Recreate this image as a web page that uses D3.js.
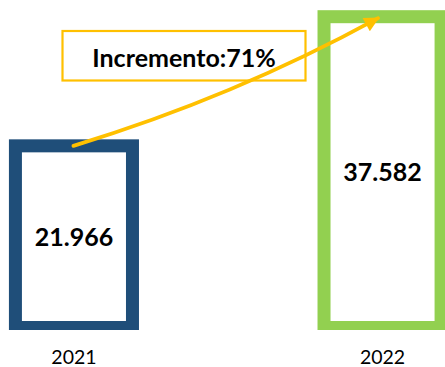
<!DOCTYPE html>
<html>
<head>
<meta charset="utf-8">
<script src="https://cdn.jsdelivr.net/npm/d3@7"></script>
<style>
  html, body { margin: 0; padding: 0; background: #fff; }
  svg { display: block; }
</style>
</head>
<body>
<svg id="chart" width="445" height="367"></svg>
<script>
// Yearly totals (thousands, shown with "." as thousands separator)
const years = ["2021", "2022"];
const totals = [21.966, 37.582];
const totalLabels = ["21.966", "37.582"];
const barColors = ["#1F4E79", "#92D050"];
const growthLabel = "Incremento:71%";

const W = 445, H = 367;
const svg = d3.select("#chart");
const font = "Lato, 'Open Sans', sans-serif";

const x = d3.scaleBand()
  .domain(years)
  .range([0, 456.5])
  .paddingInner(0.6207)
  .paddingOuter(0.05);

const y = d3.scaleLinear()
  .domain([0, 40])
  .range([327.5, -3.3]);

const plotBottom = 330;

svg.append("defs").append("clipPath").attr("id", "plot-clip")
  .append("rect").attr("x", 0).attr("y", 0).attr("width", W).attr("height", plotBottom);

const stroke = 13;
const data = years.map((yr, i) => ({ year: yr, value: totals[i], label: totalLabels[i], color: barColors[i] }));

// Hollow bars: thick outline, white fill
const bars = svg.append("g").attr("clip-path", "url(#plot-clip)");
bars.selectAll("rect")
  .data(data)
  .join("rect")
  .attr("x", d => x(d.year))
  .attr("y", d => y(d.value))
  .attr("width", x.bandwidth())
  .attr("height", d => y(0) - y(d.value))
  .attr("fill", "#fff")
  .attr("stroke", d => d.color)
  .attr("stroke-width", stroke);

// Value labels centred inside each bar
svg.append("g").selectAll("text")
  .data(data)
  .join("text")
  .attr("x", d => x(d.year) + x.bandwidth() / 2)
  .attr("y", d => (y(d.value) + y(0)) / 2)
  .attr("dy", "0.36em")
  .attr("text-anchor", "middle")
  .attr("font-family", font)
  .attr("font-weight", "bold")
  .attr("font-size", 25)
  .attr("fill", "#000")
  .text(d => d.label);

// Category axis (labels only)
const xAxis = d3.axisBottom(x).tickSize(0).tickPadding(0);
const axisG = svg.append("g")
  .attr("transform", `translate(0, ${plotBottom})`)
  .call(xAxis);
axisG.select(".domain").remove();
axisG.selectAll("text")
  .attr("font-family", font)
  .attr("font-size", 19.5)
  .attr("fill", "#000")
  .attr("y", 33.5)
  .attr("dy", 0);

// Growth arrow from top of first bar to top of second bar
const p0 = [x(years[0]) + x.bandwidth() / 2 - 0.5, y(totals[0])];
const p1 = [x(years[1]) + x.bandwidth() / 2 - 0.5, y(totals[1])];
const mx = (p0[0] + p1[0]) / 2, my = (p0[1] + p1[1]) / 2;
const dx = p1[0] - p0[0], dy = p1[1] - p0[1];
const len = Math.hypot(dx, dy);
const bend = 17;
const c = [mx - dy / len * bend, my + dx / len * bend];

svg.select("defs").append("marker")
  .attr("id", "arrow-head")
  .attr("viewBox", "0 0 10 10")
  .attr("refX", 9)
  .attr("refY", 5)
  .attr("markerUnits", "userSpaceOnUse")
  .attr("markerWidth", 16)
  .attr("markerHeight", 15)
  .attr("orient", "auto")
  .append("path")
  .attr("d", "M0,0 L10,5 L0,10 Z")
  .attr("fill", "#FFC000");

const arrowPath = d3.path();
arrowPath.moveTo(p0[0], p0[1]);
arrowPath.quadraticCurveTo(c[0], c[1], p1[0] - 4, p1[1] + 1.5);

// Annotation box
const box = svg.append("g");
box.append("rect")
  .attr("x", 62.5).attr("y", 31)
  .attr("width", 243).attr("height", 49.5)
  .attr("fill", "none")
  .attr("stroke", "#FFC000")
  .attr("stroke-width", 2.2);
box.append("text")
  .attr("x", 184).attr("y", 66.5)
  .attr("text-anchor", "middle")
  .attr("font-family", font)
  .attr("font-weight", "bold")
  .attr("font-size", 25)
  .attr("fill", "#000")
  .text(growthLabel);

svg.append("path")
  .attr("d", arrowPath.toString())
  .attr("fill", "none")
  .attr("stroke", "#FFC000")
  .attr("stroke-width", 3.8)
  .attr("stroke-linecap", "round")
  .attr("marker-end", "url(#arrow-head)");
</script>
</body>
</html>
